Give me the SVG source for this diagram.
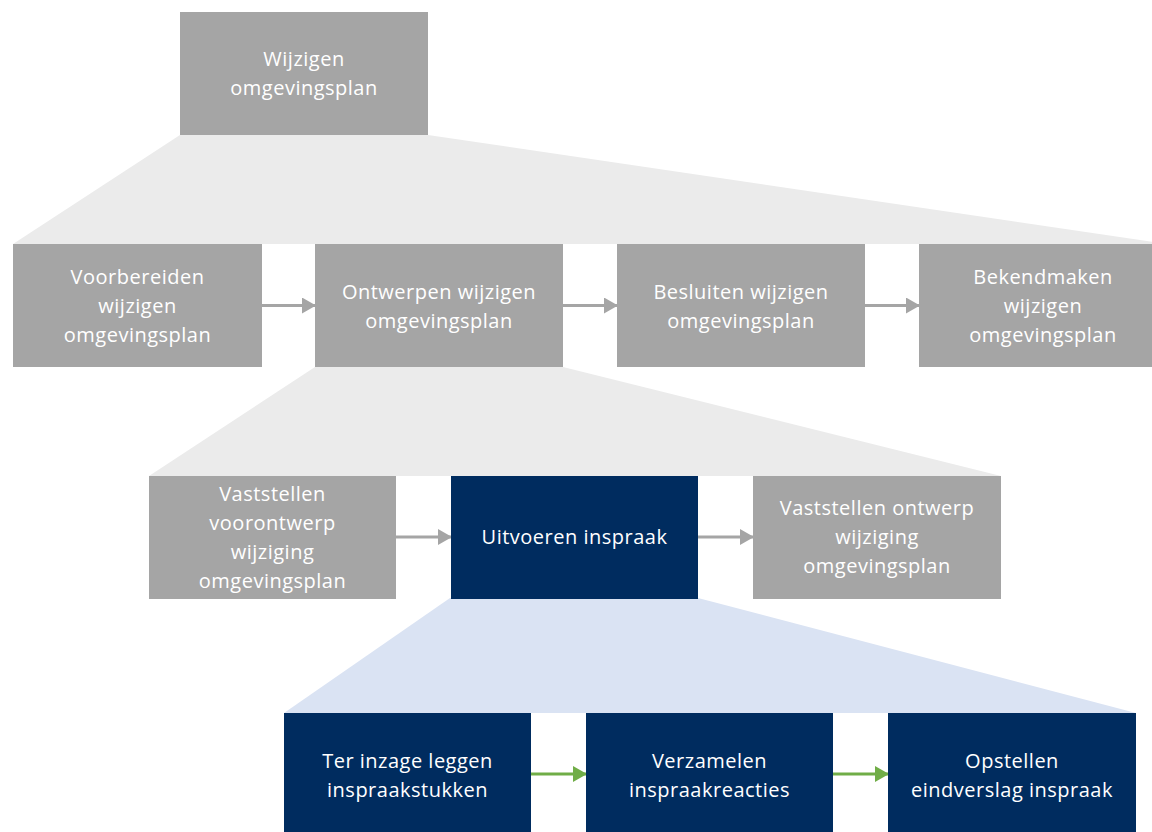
<svg xmlns="http://www.w3.org/2000/svg" width="1152" height="832" viewBox="0 0 1152 832">
<defs>
<style>
.g{fill:#A5A5A5}
.n{fill:#002C5F}
.t{font-family:"Open Sans","Noto Sans","Liberation Sans",sans-serif;font-size:20px;letter-spacing:0.5px;fill:#FFFFFF;text-anchor:middle}
.cg{stroke:#A5A5A5;stroke-width:3;fill:none}
.cn{stroke:#70AD47;stroke-width:3;fill:none}
</style>
<marker id="ag" markerWidth="14" markerHeight="16" refX="13" refY="8" orient="auto" markerUnits="userSpaceOnUse"><path d="M0,0 L14,8 L0,16 Z" fill="#A5A5A5"/></marker>
<marker id="an" markerWidth="14" markerHeight="16" refX="13" refY="8" orient="auto" markerUnits="userSpaceOnUse"><path d="M0,0 L14,8 L0,16 Z" fill="#70AD47"/></marker>
</defs>
<rect width="1152" height="832" fill="#FFFFFF"/>
<g id="zooms">
<polygon points="180,135 428,135 1167,244 13,244" fill="#EBEBEB"/>
<polygon points="315,367 563,367 1001,476 149,476" fill="#EBEBEB"/>
<polygon points="450,598 698,598 1136,713 284,713" fill="#DAE3F3"/>
</g>
<g id="connectors">
<line x1="262" y1="305.5" x2="315" y2="305.5" class="cg" marker-end="url(#ag)"/>
<line x1="563" y1="305.5" x2="617" y2="305.5" class="cg" marker-end="url(#ag)"/>
<line x1="865" y1="305.5" x2="919" y2="305.5" class="cg" marker-end="url(#ag)"/>
<line x1="396" y1="537" x2="451" y2="537" class="cg" marker-end="url(#ag)"/>
<line x1="698" y1="537" x2="753" y2="537" class="cg" marker-end="url(#ag)"/>
<line x1="531" y1="774" x2="586" y2="774" class="cn" marker-end="url(#an)"/>
<line x1="833" y1="774" x2="888" y2="774" class="cn" marker-end="url(#an)"/>
</g>
<g id="n0"><rect x="180" y="12" width="248" height="123" class="g"/>
<text class="t" x="304" y="66">Wijzigen</text><text class="t" x="304" y="95">omgevingsplan</text></g>
<g id="n1"><rect x="13" y="244" width="249" height="123" class="g"/>
<text class="t" x="137.5" y="284">Voorbereiden</text><text class="t" x="137.5" y="313">wijzigen</text><text class="t" x="137.5" y="342">omgevingsplan</text></g>
<g id="n2"><rect x="315" y="244" width="248" height="123" class="g"/>
<text class="t" x="439" y="299">Ontwerpen wijzigen</text><text class="t" x="439" y="328">omgevingsplan</text></g>
<g id="n3"><rect x="617" y="244" width="248" height="123" class="g"/>
<text class="t" x="741" y="299">Besluiten wijzigen</text><text class="t" x="741" y="328">omgevingsplan</text></g>
<g id="n4"><rect x="919" y="244" width="248" height="123" class="g"/>
<text class="t" x="1043" y="284">Bekendmaken</text><text class="t" x="1043" y="313">wijzigen</text><text class="t" x="1043" y="342">omgevingsplan</text></g>
<g id="n5"><rect x="149" y="476" width="247" height="123" class="g"/>
<text class="t" x="272.5" y="501">Vaststellen</text><text class="t" x="272.5" y="530">voorontwerp</text><text class="t" x="272.5" y="559">wijziging</text><text class="t" x="272.5" y="588">omgevingsplan</text></g>
<g id="n6"><rect x="451" y="476" width="247" height="123" class="n"/>
<text class="t" x="574.5" y="544">Uitvoeren inspraak</text></g>
<g id="n7"><rect x="753" y="476" width="248" height="123" class="g"/>
<text class="t" x="877" y="515">Vaststellen ontwerp</text><text class="t" x="877" y="544">wijziging</text><text class="t" x="877" y="573">omgevingsplan</text></g>
<g id="n8"><rect x="284" y="713" width="247" height="123" class="n"/>
<text class="t" x="407.5" y="768">Ter inzage leggen</text><text class="t" x="407.5" y="797">inspraakstukken</text></g>
<g id="n9"><rect x="586" y="713" width="247" height="123" class="n"/>
<text class="t" x="709.5" y="768">Verzamelen</text><text class="t" x="709.5" y="797">inspraakreacties</text></g>
<g id="n10"><rect x="888" y="713" width="248" height="123" class="n"/>
<text class="t" x="1012" y="768">Opstellen</text><text class="t" x="1012" y="797">eindverslag inspraak</text></g>
</svg>
